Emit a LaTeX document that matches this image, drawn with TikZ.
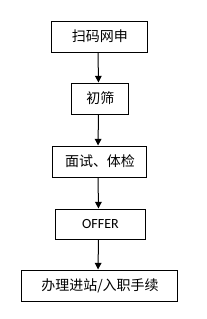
\documentclass[tikz,border=0pt]{standalone}
\usepackage{fontspec}
\setmainfont{Carlito}
\newfontfamily\cjk{Noto Sans CJK SC}
\usetikzlibrary{arrows.meta}

\begin{document}
\begin{tikzpicture}[x=0.75pt,y=-0.75pt,
  stepbox/.style={draw,line width=0.75pt,inner sep=0pt,minimum height=23.25pt,
    font=\cjk\fontsize{10.5}{12}\selectfont},
  flow/.style={line width=0.75pt,-{Triangle[length=5pt,width=5pt]}}]

\useasboundingbox (0,0) rectangle (207,319);

% boxes
\node[stepbox,minimum width=72pt] (scan) at (100,36.5) {扫码网申};
\node[stepbox,minimum width=42.75pt] (screen) at (100.5,98.5) {初筛};
\node[stepbox,minimum width=70.5pt] (interview) at (100,161.5) {面试、体检};
\node[stepbox,minimum width=67.5pt,minimum height=22.5pt,
  font=\fontsize{10.5}{12}\selectfont] (offer) at (100.5,224) {OFFER};
\node[stepbox,minimum width=117pt] (entry) at (100,285.5) {办理进站/入职手续};

% arrows
\draw[flow] ([xshift=-1.5pt]scan.south) -- ([xshift=-1.5pt]screen.north);
\draw[flow] ([xshift=-1.5pt]screen.south) -- ([xshift=-1.5pt]interview.north);
\draw[flow] ([xshift=-1.5pt]interview.south) -- ([xshift=-1.5pt]offer.north);
\draw[flow] ([xshift=-1.5pt]offer.south) -- ([xshift=-1.5pt]entry.north);

\end{tikzpicture}
\end{document}
